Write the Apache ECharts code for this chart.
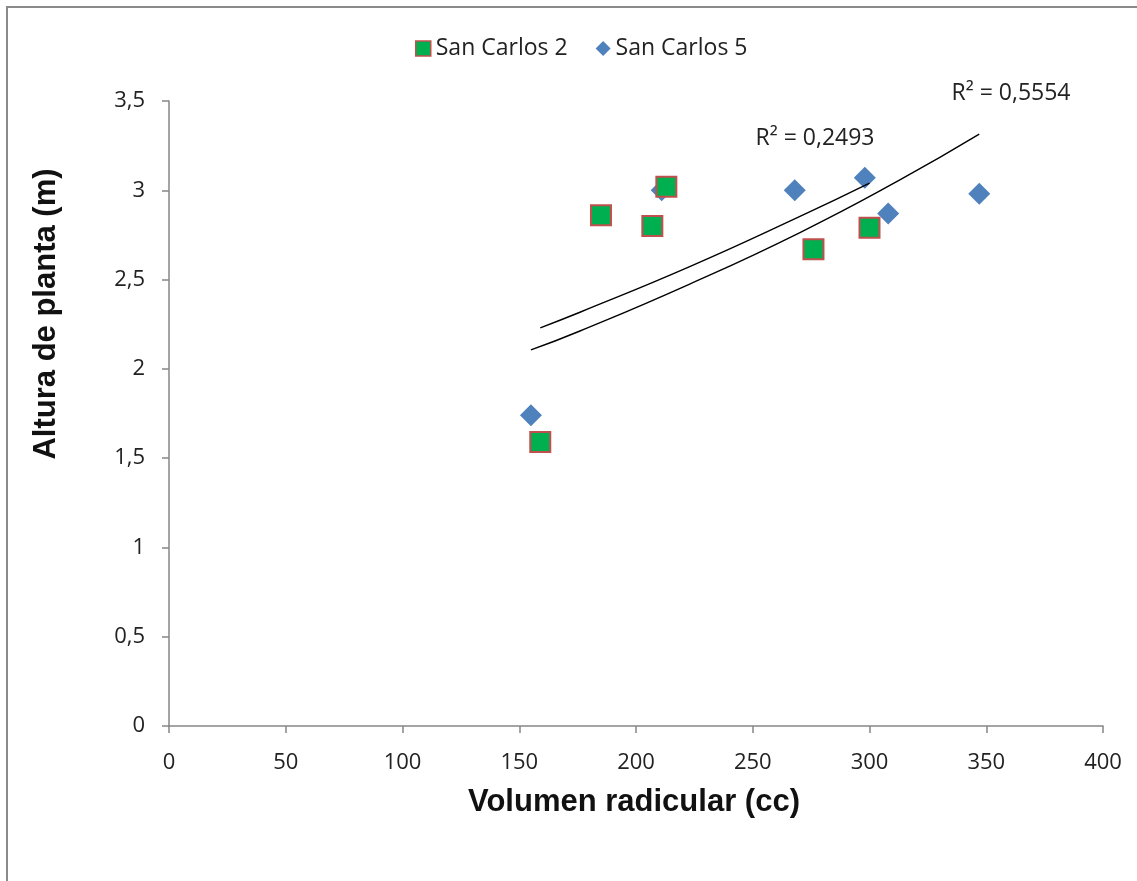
<!DOCTYPE html>
<html>
<head>
<meta charset="utf-8">
<script src="https://cdn.jsdelivr.net/npm/echarts@6/dist/echarts.min.js"></script>
<style>
  html, body { margin: 0; padding: 0; background: #fff; }
  #chart { width: 1137px; height: 881px; }
</style>
</head>
<body>
<div id="chart"></div>
<script>
// ---- Data ----
const seriesNames = ['San Carlos 2', 'San Carlos 5'];
const sc2Volume = [159, 185, 207, 213, 276, 300];
const sc2Height = [1.59, 2.86, 2.80, 3.02, 2.67, 2.79];
const sc5Volume = [155, 211, 268, 298, 308, 347];
const sc5Height = [1.74, 3.00, 3.00, 3.07, 2.87, 2.98];
// trend lines
const trend2X = [159, 176, 223, 270, 300];
const trend2Y = [2.23, 2.317, 2.572, 2.852, 3.04];
const trend5X = [155, 176, 223, 270, 313, 347];
const trend5Y = [2.106, 2.212, 2.475, 2.762, 3.058, 3.314];
const r2Labels = ['R² = 0,2493', 'R² = 0,5554'];
const xTitle = 'Volumen radicular (cc)';
const yTitle = 'Altura de planta (m)';

const zip = (a, b) => a.map((v, i) => [v, b[i]]);

const chart = echarts.init(document.getElementById('chart'), null, { renderer: 'canvas' });
const labelFont = '"Open Sans", sans-serif';
const titleFont = '"Liberation Sans", Arial, sans-serif';

chart.setOption({
  animation: false,
  backgroundColor: '#ffffff',
  grid: { left: 169, right: 34, top: 101, bottom: 155, containLabel: false },
  legend: {
    left: 410, top: 32,
    itemGap: 28, itemWidth: 15, itemHeight: 15,
    textStyle: { fontFamily: labelFont, fontSize: 23, color: '#222' },
    data: [
      { name: seriesNames[0], icon: 'rect', itemStyle: { color: '#00B050', borderColor: '#C0504D', borderWidth: 1.5 } },
      { name: seriesNames[1], icon: 'diamond', itemStyle: { color: '#4F81BD' } }
    ]
  },
  xAxis: {
    type: 'value', min: 0, max: 400, interval: 50,
    splitLine: { show: false },
    axisLine: { onZero: false, lineStyle: { color: '#868686', width: 1.5 } },
    axisTick: { show: true, length: 7, lineStyle: { color: '#868686', width: 1.5 } },
    axisLabel: { margin: 26, fontFamily: labelFont, fontSize: 22, color: '#222' }
  },
  yAxis: {
    type: 'value', min: 0, max: 3.5, interval: 0.5,
    splitLine: { show: false },
    axisLine: { show: true, lineStyle: { color: '#868686', width: 1.5 } },
    axisTick: { show: true, length: 7, lineStyle: { color: '#868686', width: 1.5 } },
    axisLabel: { margin: 24, fontFamily: labelFont, fontSize: 22, color: '#222',
      formatter: v => String(v).replace('.', ',') }
  },
  graphic: [
    { type: 'rect', shape: { x: 7, y: 7, width: 1300, height: 1100 },
      style: { fill: 'none', stroke: '#8a8a8a', lineWidth: 2 }, silent: true, z: -10 },
    { type: 'text', x: 634, y: 802,
      style: { text: xTitle, fontFamily: titleFont, fontWeight: 'bold', fontSize: 31,
        fill: '#111', align: 'center', verticalAlign: 'middle' } },
    { type: 'text', x: 46, y: 314, rotation: Math.PI / 2,
      style: { text: yTitle, fontFamily: titleFont, fontWeight: 'bold', fontSize: 31,
        fill: '#111', align: 'center', verticalAlign: 'middle' } },
    { type: 'text', x: 815, y: 138,
      style: { text: r2Labels[0], fontFamily: labelFont, fontSize: 23, fill: '#222', align: 'center', verticalAlign: 'middle' } },
    { type: 'text', x: 1011, y: 93,
      style: { text: r2Labels[1], fontFamily: labelFont, fontSize: 23, fill: '#222', align: 'center', verticalAlign: 'middle' } }
  ],
  series: [
    {
      name: seriesNames[0], type: 'scatter', symbol: 'rect', symbolSize: 20,
      itemStyle: { color: '#00B050', borderColor: '#C0504D', borderWidth: 2, opacity: 1 },
      data: zip(sc2Volume, sc2Height), z: 3
    },
    {
      name: seriesNames[1], type: 'scatter', symbol: 'diamond', symbolSize: 22,
      itemStyle: { color: '#4F81BD', opacity: 1 },
      data: zip(sc5Volume, sc5Height), z: 2
    },
    {
      name: 'trend2', type: 'line', smooth: true, showSymbol: false, symbol: 'none',
      lineStyle: { color: '#000', width: 1.4 }, data: zip(trend2X, trend2Y), z: 5, silent: true
    },
    {
      name: 'trend5', type: 'line', smooth: true, showSymbol: false, symbol: 'none',
      lineStyle: { color: '#000', width: 1.4 }, data: zip(trend5X, trend5Y), z: 5, silent: true
    }
  ]
});
</script>
</body>
</html>
